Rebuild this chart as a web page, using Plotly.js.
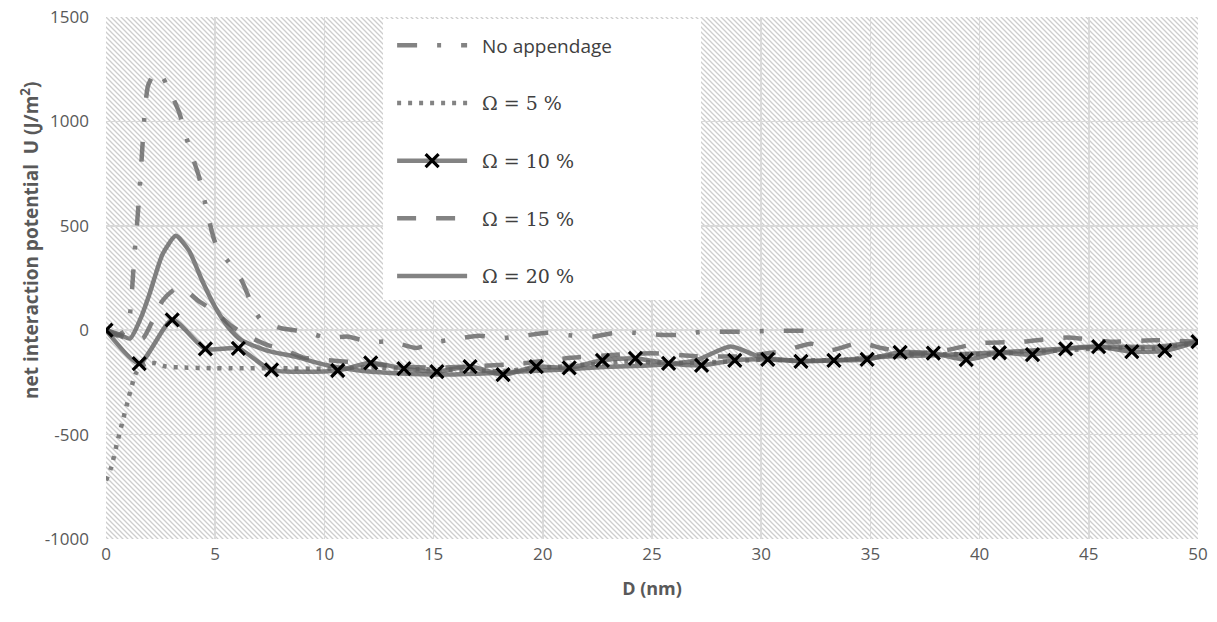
<!DOCTYPE html>
<html>
<head>
<meta charset="utf-8">
<script src="https://cdn.plot.ly/plotly-3.0.1.min.js"></script>
<style>html,body{margin:0;padding:0;background:#fff;}</style>
</head>
<body>
<div id="chart" style="width:1217px;height:622px;"></div>
<script>
// ---- data ----
const seriesNames = ["No appendage", "Ω = 5 %", "Ω = 10 %", "Ω = 15 %", "Ω = 20 %"];

const xNone = [0, 0.5, 0.9, 1.1, 1.2, 1.3, 1.43, 1.55, 1.65, 1.75, 1.93, 2.3, 2.6, 2.9, 3.35, 3.8, 4.27, 4.64, 5.0, 5.6, 6.2, 6.6, 7.1, 8.0, 9.1, 10.1, 11.1, 12.0, 13.1, 14.2, 15.0, 16.1, 17.1, 18.1, 19.2, 20.2, 21.2, 22.3, 23.2, 24.2, 25.3, 26.2, 27.3, 28.4, 29.3, 30.4, 31.5, 32.4];
const yNone = [0, -25, 0, 80, 205, 360, 520, 690, 850, 1010, 1173, 1240, 1210, 1150, 1043, 880, 731, 562, 420, 328, 241, 143, 48, 10, -7, -36, -31, -55, -55, -85, -60, -40, -27, -38, -26, -12, -24, -31, -14, -12, -22, -22, -8, -7, -7, -3, -3, -3];

const x5 = [0, 0.25, 0.5, 0.78, 1.05, 1.38, 1.8, 2.2, 2.75, 3.3, 5, 8, 10, 12, 14, 16, 18, 20, 22, 24, 26, 28, 30, 32, 34, 36, 38, 40, 42, 44, 46, 48, 50];
const y5 = [-720, -653, -543, -428, -318, -204, -160, -157, -174, -178, -182, -182, -185, -178, -186, -190, -196, -180, -165, -150, -158, -152, -142, -145, -140, -120, -115, -115, -105, -95, -85, -88, -60];

const x10 = [0, 1.52, 3.03, 4.55, 6.06, 7.58, 10.61, 12.12, 13.64, 15.15, 16.67, 18.18, 19.70, 21.21, 22.73, 24.24, 25.76, 27.27, 28.79, 30.30, 31.82, 33.33, 34.85, 36.36, 37.88, 39.39, 40.91, 42.42, 43.94, 45.45, 46.97, 48.48, 50];
const y10 = [0, -160, 50, -90, -87, -190, -193, -156, -184, -198, -174, -213, -174, -180, -144, -135, -159, -168, -144, -140, -149, -144, -140, -106, -110, -141, -108, -117, -89, -79, -103, -98, -55];

const x15 = [0, 0.6, 1.2, 1.7, 2.1, 2.6, 3.2, 3.6, 4.2, 4.9, 5.7, 6.4, 7.4, 8.2, 9.0, 10.2, 11.5, 13, 15, 17, 19, 21, 23, 25, 27, 29, 31, 32.3, 33.2, 34.5, 35.5, 37, 38.5, 40, 42, 44, 46, 48, 50];
const y15 = [0, -25, -50, -38, 38, 143, 200, 195, 143, 95, 24, -24, -71, -95, -130, -144, -155, -170, -180, -172, -160, -135, -120, -110, -125, -125, -100, -65, -95, -60, -85, -112, -95, -62, -55, -35, -55, -48, -55];

const x20 = [0, 0.6, 1.1, 1.6, 2.0, 2.6, 3.2, 3.8, 4.4, 5.0, 5.6, 6.2, 7.3, 8.7, 10, 11.5, 13, 15, 17, 19, 21, 23, 25, 27, 28.6, 30, 32, 34, 36, 38, 40, 42, 44, 46, 48, 50];
const y20 = [0, -20, -40, 60, 176, 366, 452, 381, 238, 110, 14, -48, -95, -128, -165, -192, -205, -212, -208, -198, -188, -175, -168, -145, -78, -130, -148, -140, -125, -120, -110, -100, -88, -78, -80, -58];

// ---- axes ----
const xRange = [0, 50];
const yRange = [-1000, 1500];
const xTickStep = 5;
const yTickVals = [-1000, -500, 0, 500, 1000, 1500];
const yTickText = ["-1000", "-500", "0", "500", "1000", "1500"];
const xTitle = "D (nm)";
const yTitle = "net interaction potential  U (J/m<sup>2</sup>)";

const gray = "rgba(96,96,96,0.78)";
const lw = 4.5;
const pad = "\u00A0\u00A0";
const serif = s => pad + '<span style="font-family:DejaVu Serif">' + s + '</span>';

const traces = [
  {x: xNone, y: yNone, name: pad + seriesNames[0], legendrank: 1, legendgroup: "a",
   mode: "lines", line: {color: gray, width: lw, dash: "20px,20px,4px,20px", shape: "spline", smoothing: 0.6}},
  {x: x5, y: y5, name: serif(seriesNames[1]), legendrank: 2, legendgroup: "b",
   mode: "lines", line: {color: gray, width: lw, dash: "4px,7px", shape: "spline", smoothing: 0.6}},
  {x: x15, y: y15, name: serif(seriesNames[3]), legendrank: 4, legendgroup: "d",
   mode: "lines", line: {color: gray, width: lw, dash: "19px,20px", shape: "spline", smoothing: 0.6}},
  {x: x20, y: y20, name: serif(seriesNames[4]), legendrank: 5, legendgroup: "e",
   mode: "lines", line: {color: gray, width: lw, shape: "spline", smoothing: 0.6}},
  {x: x10, y: y10, name: serif(seriesNames[2]), legendrank: 3, legendgroup: "c",
   mode: "lines+markers", line: {color: gray, width: lw, shape: "spline", smoothing: 0.6},
   marker: {symbol: "x-thin", size: 13, color: "#000", line: {color: "#000", width: 3.2}}}
];

const hatchSvg = "<svg xmlns='http://www.w3.org/2000/svg' width='1092' height='522' preserveAspectRatio='none'>" +
  "<defs><pattern id='p' width='5' height='5' patternUnits='userSpaceOnUse'>" +
  "<path d='M-1,-1L6,6M-1,4L1,6M4,-1L6,1' stroke='#cdcdcd' stroke-width='1.3'/></pattern></defs>" +
  "<rect width='100%' height='100%' fill='url(#p)'/></svg>";

const tickFont = {family: "Open Sans, sans-serif", size: 17, color: "#595959"};
const titleFont = {family: "Open Sans, sans-serif", size: 18, color: "#595959", weight: "bold"};

const layout = {
  width: 1217, height: 622,
  margin: {l: 106, r: 19, t: 17, b: 83, pad: 0},
  paper_bgcolor: "#ffffff",
  plot_bgcolor: "rgba(0,0,0,0)",
  showlegend: true,
  xaxis: {range: xRange, dtick: xTickStep, tick0: 0, showgrid: true, gridcolor: "#d9d9d9", gridwidth: 1.6,
          zeroline: false, showline: false, ticks: "", tickfont: tickFont, ticklabelstandoff: 3,
          title: {text: "<b>" + xTitle + "</b>", font: titleFont, standoff: 18}, fixedrange: true, automargin: false},
  yaxis: {range: yRange, tickmode: "array", tickvals: yTickVals, ticktext: yTickText, showgrid: true, gridcolor: "#d9d9d9", gridwidth: 1.6,
          zeroline: false, showline: false, ticks: "", tickfont: tickFont, ticklabelstandoff: 16,
          fixedrange: true, automargin: false},
  annotations: [{text: "<b>" + yTitle + "</b>", textangle: -90, xref: "paper", yref: "paper",
                 x: -0.0696, y: 0.573, xanchor: "center", yanchor: "middle", showarrow: false,
                 font: {family: "Open Sans, sans-serif", size: 19, color: "#595959"}}],
  images: [{source: "data:image/svg+xml;charset=utf-8," + encodeURIComponent(hatchSvg),
            xref: "x", yref: "y", x: 0, y: 1500, sizex: 50, sizey: 2500,
            sizing: "stretch", layer: "below", xanchor: "left", yanchor: "top"}],
  shapes: [{type: "rect", xref: "paper", yref: "paper", x0: 0.2537, x1: 0.5449, y0: 0.458, y1: 0.996,
            fillcolor: "#ffffff", line: {width: 0}, layer: "above"}],
  legend: {x: 0.262, y: 0.982, xanchor: "left", yanchor: "top", bgcolor: "rgba(0,0,0,0)",
           traceorder: "grouped", tracegroupgap: 30, itemwidth: 70,
           font: {family: "Open Sans, sans-serif", size: 19, color: "#404040"}}
};

Plotly.newPlot("chart", traces, layout, {staticPlot: true, displayModeBar: false});
</script>
</body>
</html>
